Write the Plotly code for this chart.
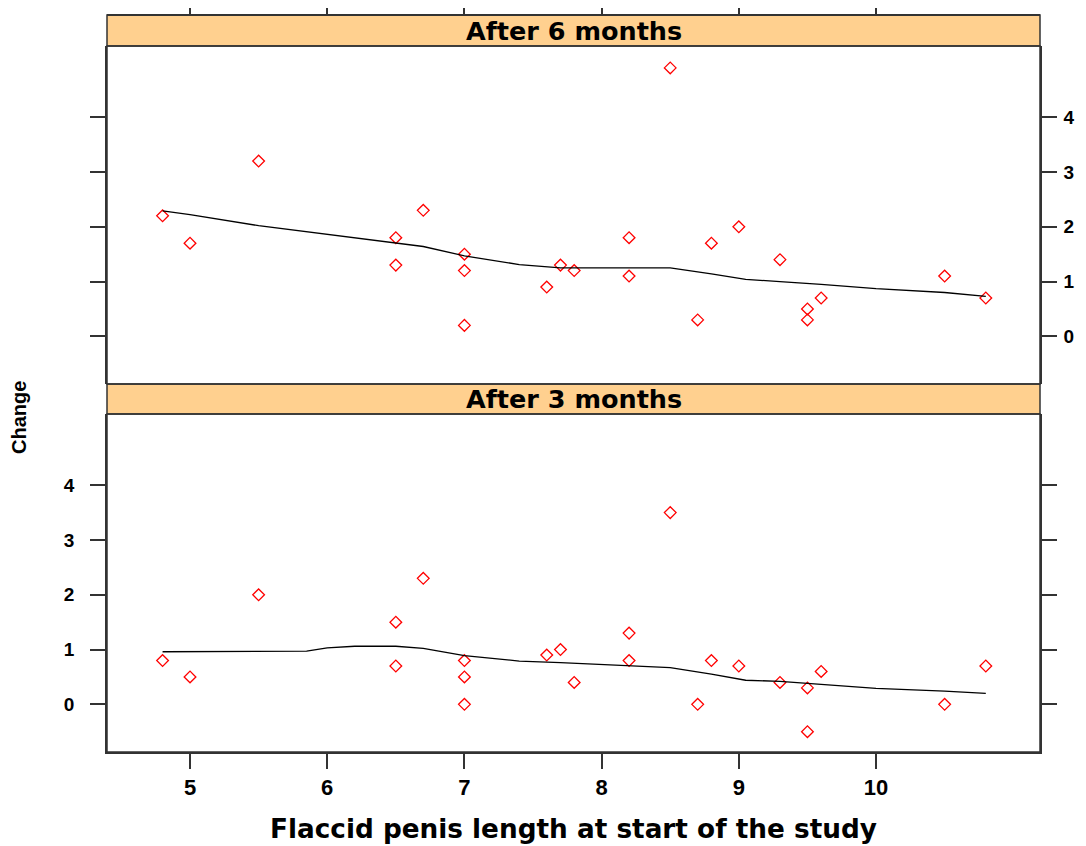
import plotly.graph_objects as go

# ---- data ----
x_length = [4.8, 5.0, 5.5, 6.5, 6.5, 6.7, 7.0, 7.0, 7.0, 7.6, 7.7, 7.8,
            8.2, 8.2, 8.5, 8.7, 8.8, 9.0, 9.3, 9.5, 9.5, 9.6, 10.5, 10.8]
change_6m = [2.2, 1.7, 3.2, 1.8, 1.3, 2.3, 1.5, 1.2, 0.2, 0.9, 1.3, 1.2,
             1.8, 1.1, 4.9, 0.3, 1.7, 2.0, 1.4, 0.5, 0.3, 0.7, 1.1, 0.7]
change_3m = [0.8, 0.5, 2.0, 1.5, 0.7, 2.3, 0.8, 0.5, 0.0, 0.9, 1.0, 0.4,
             1.3, 0.8, 3.5, 0.0, 0.8, 0.7, 0.4, 0.3, -0.5, 0.6, 0.0, 0.7]

smooth_6m_x = [4.8, 5.0, 5.5, 6.0, 6.5, 6.7, 7.0, 7.4, 7.7, 8.2, 8.5, 8.8,
               9.05, 9.3, 9.5, 9.6, 10.0, 10.5, 10.8]
smooth_6m_y = [2.29, 2.22, 2.02, 1.86, 1.71, 1.64, 1.47, 1.31, 1.25, 1.25, 1.25, 1.14,
               1.04, 1.0, 0.97, 0.95, 0.87, 0.80, 0.73]
smooth_3m_x = [4.8, 5.5, 5.85, 6.0, 6.2, 6.5, 6.7, 7.0, 7.4, 7.7, 8.0, 8.2,
               8.5, 8.8, 9.05, 9.3, 9.6, 10.0, 10.5, 10.8]
smooth_3m_y = [0.96, 0.96, 0.97, 1.03, 1.06, 1.06, 1.02, 0.89, 0.79, 0.76, 0.73, 0.71,
               0.67, 0.55, 0.44, 0.42, 0.37, 0.29, 0.24, 0.20]

panel_titles = ["After 6 months", "After 3 months"]
x_ticks = [5, 6, 7, 8, 9, 10]
y_ticks = [0, 1, 2, 3, 4]
x_range = [4.395, 11.195]
y_range = [-0.87, 5.30]

# ---- layout geometry ----
# page body has an 8px margin, so figure coordinates = screen coordinates - 8
OFF = 8
W, H = 1086 - OFF, 846 - OFF
sx0, sx1 = 107, 1040      # screen x of plot area
sy0, sy1 = 15, 752        # screen y of plot area
ml, mr = sx0 - OFF, W - (sx1 - OFF)
mt, mb = sy0 - OFF, H - (sy1 - OFF)
pw, ph = sx1 - sx0, sy1 - sy0


def py(pix):
    return (sy1 - pix) / ph


def px(pix):
    return (pix - sx0) / pw


strip_top_6 = (py(46), py(15))
panel_6 = (py(384), py(46))
strip_top_3 = (py(414), py(384))
panel_3 = (0.0, py(414))

point_style = dict(mode="markers", marker=dict(symbol="diamond-open", size=9,
                                               color="#FF0000", line=dict(width=1.3, color="#FF0000")),
                   showlegend=False, hoverinfo="x+y")
line_style = dict(mode="lines", line=dict(color="black", width=1.3), showlegend=False)

fig = go.Figure()
# top panel (6 months)
fig.add_trace(go.Scatter(x=x_length, y=change_6m, xaxis="x2", yaxis="y2", **point_style))
fig.add_trace(go.Scatter(x=smooth_6m_x, y=smooth_6m_y, xaxis="x2", yaxis="y2", **line_style))
# bottom panel (3 months)
fig.add_trace(go.Scatter(x=x_length, y=change_3m, xaxis="x", yaxis="y", **point_style))
fig.add_trace(go.Scatter(x=smooth_3m_x, y=smooth_3m_y, xaxis="x", yaxis="y", **line_style))

axis_col = "#333333"
ytick_font = dict(family="Liberation Sans, Arial, sans-serif", size=19, color="black", weight="bold")
xtick_font = dict(family="Liberation Sans, Arial, sans-serif", size=22, color="black", weight="bold")
common = dict(showgrid=False, zeroline=False, ticks="outside", ticklen=15, tickwidth=1.5,
              tickcolor=axis_col, showline=True, linecolor=axis_col, linewidth=1.5,
              automargin=False)

fig.update_layout(
    width=W, height=H,
    margin=dict(l=ml, r=mr, t=mt, b=mb, autoexpand=False),
    paper_bgcolor="white", plot_bgcolor="white",
    xaxis=dict(domain=[0, 1], anchor="y", range=x_range, tickvals=x_ticks,
               ticklabelstandoff=0, tickfont=xtick_font, **common),
    yaxis=dict(domain=list(panel_3), anchor="x", range=y_range, tickvals=y_ticks,
               side="left", mirror="ticks", ticklabelstandoff=12, tickfont=ytick_font, **common),
    xaxis2=dict(domain=[0, 1], anchor="free", position=1.0, side="top", range=x_range,
                tickvals=x_ticks, showticklabels=False, tickfont=xtick_font, **common),
    yaxis2=dict(domain=list(panel_6), anchor="x2", range=y_range, tickvals=y_ticks,
                side="right", mirror="ticks", ticklabelstandoff=3, tickfont=ytick_font, **common),
)

strip_fill = "#FFD08F"
shapes = []
for (y0, y1) in [strip_top_6, strip_top_3]:
    shapes.append(dict(type="rect", xref="paper", yref="paper", x0=0, x1=1, y0=y0, y1=y1,
                       fillcolor=strip_fill, line=dict(color=axis_col, width=1.5), layer="below"))
for (y0, y1) in [panel_6, panel_3]:
    shapes.append(dict(type="rect", xref="paper", yref="paper", x0=0, x1=1, y0=y0, y1=y1,
                       fillcolor="rgba(0,0,0,0)", line=dict(color=axis_col, width=1.5), layer="above"))
fig.update_layout(shapes=shapes)

strip_font = dict(family="DejaVu Sans, sans-serif", size=25.5, color="black", weight="bold")
annotations = []
for title, (y0, y1) in zip(panel_titles, [strip_top_6, strip_top_3]):
    annotations.append(dict(text=title, xref="paper", yref="paper", x=0.5, y=(y0 + y1) / 2,
                            xanchor="center", yanchor="middle", showarrow=False, font=strip_font))
annotations.append(dict(text="Flaccid penis length at start of the study", xref="paper", yref="paper",
                        x=px(573), y=py(829), xanchor="center", yanchor="middle",
                        showarrow=False,
                        font=dict(family="DejaVu Sans, sans-serif", size=26.3, color="black", weight="bold")))
annotations.append(dict(text="Change", xref="paper", yref="paper", x=px(19),
                        y=py(418), xanchor="center", yanchor="middle", textangle=-90, showarrow=False,
                        font=dict(family="Liberation Sans, Arial, sans-serif", size=20, color="black",
                                  weight="bold")))
fig.update_layout(annotations=annotations)

fig.write_html("out.html")
